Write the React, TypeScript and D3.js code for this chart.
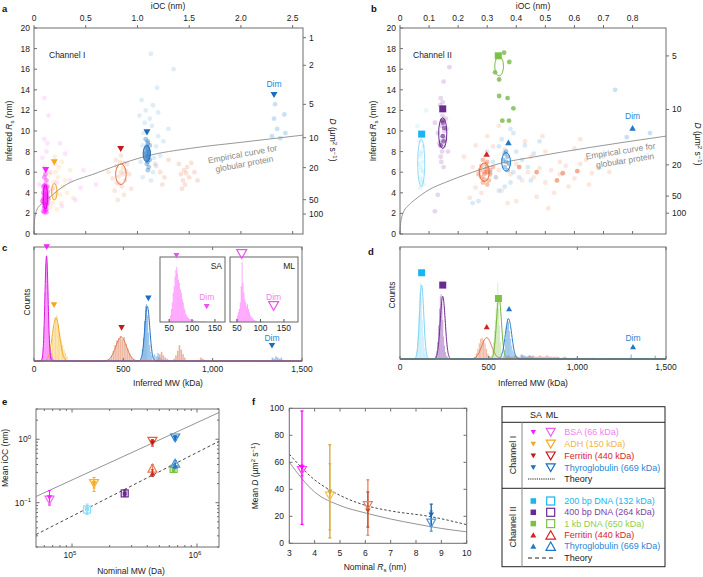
import React from 'react';
import * as d3 from 'd3';

type P = [number, number];

// ================= DATA =================
// ---- Panel a ----
const aIocTicks = [0, 0.5, 1, 1.5, 2, 2.5];
const aIocLabels = ['0', '0.5', '1.0', '1.5', '2.0', '2.5'];
const rsTicks = [0, 2, 4, 6, 8, 10, 12, 14, 16, 18, 20];
const aDLabels = ['1', '2', '5', '10', '20', '50', '100'];
const aDRs = [19.06, 16.38, 12.59, 9.35, 6.44, 3.33, 1.94];
const aCurve: P[] = [[0, 0], [0.003, 1.0], [0.01, 1.7], [0.026, 2.3], [0.06, 2.8], [0.12, 3.3], [0.28, 4.6], [0.6, 5.9], [0.93, 7.1], [1.1, 7.6], [1.5, 8.3], [2.0, 8.9], [2.6, 9.6]];
const aBsaCore: P[] = [[0.09, 2.2], [0.1, 2.5], [0.11, 2.3], [0.12, 2.8], [0.09, 3.0], [0.1, 3.2], [0.11, 3.5], [0.12, 3.1], [0.13, 3.6], [0.1, 3.8], [0.09, 4.0], [0.11, 4.2], [0.12, 4.5], [0.1, 4.7], [0.13, 4.1], [0.11, 2.9], [0.12, 3.3], [0.1, 3.5], [0.11, 3.9], [0.12, 3.7], [0.09, 3.4], [0.1, 2.7], [0.11, 3.0], [0.12, 2.4], [0.13, 3.0], [0.1, 4.3], [0.11, 4.8], [0.12, 5.2], [0.1, 5.5], [0.09, 4.6], [0.13, 4.6], [0.11, 5.8], [0.14, 3.4], [0.08, 3.2], [0.1, 2.1], [0.12, 2.1], [0.11, 2.6], [0.1, 3.0], [0.12, 3.9], [0.11, 4.5]];
const aBsaSpread: P[] = [[0.1, 6.5], [0.08, 7.4], [0.12, 8.0], [0.1, 9.2], [0.14, 11.5], [0.1, 13.2], [0.2, 6.8], [0.25, 8.8], [0.3, 7.8], [0.35, 5.2], [0.22, 5.0], [0.18, 4.4], [0.05, 4.8], [0.4, 3.3], [0.27, 2.7], [0.13, 8.8], [0.45, 4.5], [0.48, 6.2], [0.6, 4.8], [0.16, 6.0]];
const aAdh: P[] = [[0.18, 3.0], [0.2, 3.5], [0.22, 4.0], [0.2, 4.5], [0.19, 5.0], [0.23, 5.5], [0.17, 4.2], [0.25, 3.8], [0.28, 4.6], [0.21, 6.0], [0.24, 6.5], [0.3, 5.2], [0.16, 2.6], [0.26, 3.0], [0.32, 4.0], [0.35, 6.2], [0.2, 7.5], [0.15, 5.8], [0.27, 7.0], [0.38, 3.5], [0.22, 2.4], [0.19, 3.8]];
const aFer: P[] = [[0.78, 4.2], [0.8, 5.0], [0.82, 5.6], [0.84, 6.0], [0.86, 6.4], [0.88, 5.2], [0.9, 6.8], [0.83, 7.0], [0.85, 4.6], [0.87, 3.8], [0.8, 6.6], [0.92, 5.8], [0.76, 5.4], [0.84, 7.6], [0.86, 5.8], [0.82, 4.9], [0.89, 6.1], [0.94, 4.4], [0.79, 7.2], [0.87, 6.9], [0.81, 3.3], [0.72, 6.0]];
const aFer2: P[] = [[1.42, 5.8], [1.45, 6.2], [1.48, 6.5], [1.5, 5.5], [1.44, 5.2], [1.52, 6.9], [1.46, 4.8], [1.55, 6.0], [1.4, 6.8], [1.47, 5.9], [1.43, 4.4], [1.58, 5.2], [1.22, 6.0], [1.26, 5.5], [1.3, 7.2], [1.24, 4.8], [1.18, 6.6]];
const aThyCore: P[] = [[1.1, 7.0], [1.1, 7.5], [1.11, 8.0], [1.09, 8.5], [1.1, 9.0], [1.12, 7.2], [1.08, 7.8], [1.11, 6.5], [1.09, 6.8], [1.1, 8.2], [1.12, 8.6], [1.08, 9.2], [1.1, 6.2], [1.11, 7.7], [1.09, 7.3], [1.1, 8.8]];
const aThySpread: P[] = [[1.05, 5.5], [1.15, 6.0], [1.06, 9.8], [1.14, 10.5], [1.12, 11.2], [1.08, 12.0], [1.18, 8.5], [1.2, 9.5], [1.03, 7.0], [1.16, 7.4], [1.13, 5.2], [1.07, 10.8], [1.04, 13.0], [1.2, 11.8], [1.15, 12.5], [1.13, 17.5], [1.05, 8.6], [1.17, 6.8], [1.22, 7.6], [1.25, 9.0], [1.02, 11.5], [1.3, 10.2], [1.35, 16.0], [1.19, 14.2]];
const aDim: P[] = [[2.33, 12.6], [2.32, 11.2], [2.35, 10.2], [2.42, 11.6], [2.38, 9.3], [2.43, 9.8], [2.3, 9.5]];
// ellipses: cx, cy, half-width (iOC), half-height (Rs)
const aEllBsa = [0.11, 3.6, 0.02, 1.2];
const aEllAdh = [0.196, 4.1, 0.026, 0.8];
const aEllFer = [0.84, 5.8, 0.051, 1.0];
const aEllThy = [1.09, 7.8, 0.035, 0.8];
const aMarkIoc = [0.113, 0.196, 0.838, 1.092, 2.32];
const aMarkRs = [6.2, 6.96, 8.25, 9.87, 13.5];

// ---- Panel b ----
const bIocTicks = [0, 0.1, 0.2, 0.3, 0.4, 0.5, 0.6, 0.7, 0.8];
const bIocLabels = ['0', '0.1', '0.2', '0.3', '0.4', '0.5', '0.6', '0.7', '0.8'];
const bDLabels = ['5', '10', '20', '50', '100'];
const bDRs = [17.29, 12.09, 6.71, 3.68, 2.02];
const bCurve: P[] = [[0, 0], [0.002, 1.0], [0.01, 2.0], [0.03, 2.8], [0.05, 3.3], [0.1, 4.3], [0.155, 5.0], [0.25, 6.0], [0.344, 6.85], [0.464, 7.5], [0.653, 8.4], [0.915, 9.5]];
const b200: P[] = [[0.07, 4.5], [0.075, 5.0], [0.07, 5.5], [0.08, 6.0], [0.072, 6.5], [0.078, 7.0], [0.07, 7.5], [0.075, 8.0], [0.08, 8.5], [0.068, 9.0], [0.074, 6.2], [0.076, 5.2], [0.071, 7.8], [0.082, 4.8], [0.065, 6.8], [0.073, 9.5], [0.09, 12], [0.06, 10.5]];
const b400: P[] = [[0.14, 7.5], [0.145, 8.0], [0.15, 8.5], [0.14, 9.0], [0.148, 9.5], [0.152, 10.0], [0.143, 10.5], [0.15, 11.0], [0.146, 11.5], [0.138, 12.5], [0.155, 9.2], [0.135, 8.8], [0.16, 10.2], [0.142, 7.0], [0.15, 6.5], [0.13, 9.8], [0.158, 11.2], [0.147, 12.8], [0.14, 13.2], [0.165, 8.0], [0.12, 10.8], [0.17, 16.2], [0.15, 14.8], [0.13, 3.8], [0.12, 2.2]];
const b400Dark: P[] = [[0.147, 9.5], [0.152, 10.3], [0.145, 11.0], [0.14, 8.6], [0.15, 9.0], [0.148, 10.8]];
const b1kb: P[] = [[0.358, 17.6], [0.376, 16.7], [0.327, 15.7], [0.341, 15.0], [0.341, 13.4], [0.37, 13.2], [0.39, 12.2], [0.352, 11.0], [0.375, 11.0]];
const bFerCore: P[] = [[0.28, 5.5], [0.29, 6.0], [0.3, 6.5], [0.285, 5.0], [0.295, 6.8], [0.275, 6.2], [0.31, 5.8], [0.29, 5.3], [0.3, 7.0], [0.28, 6.6], [0.305, 5.2], [0.27, 5.8], [0.295, 6.3], [0.285, 7.2], [0.31, 6.2], [0.3, 4.8], [0.29, 5.8], [0.32, 6.5]];
const bFerSpread: P[] = [[0.25, 6.5], [0.26, 4.5], [0.33, 5.5], [0.35, 4.2], [0.34, 6.2], [0.38, 5.8], [0.4, 6.8], [0.42, 5.2], [0.44, 6.0], [0.46, 5.5], [0.48, 6.4], [0.5, 5.0], [0.52, 6.2], [0.55, 5.8], [0.57, 6.6], [0.6, 5.4], [0.62, 6.8], [0.64, 7.2], [0.66, 5.9], [0.68, 6.5], [0.7, 7.5], [0.45, 7.5], [0.5, 8.0], [0.55, 7.0], [0.58, 4.6], [0.53, 4.0], [0.47, 3.6], [0.4, 3.2], [0.36, 8.2], [0.32, 8.5], [0.3, 9.5], [0.26, 8.6], [0.24, 3.5], [0.6, 8.3], [0.65, 4.8], [0.72, 6.0], [0.75, 7.0], [0.43, 9.0], [0.37, 3.0], [0.28, 4.0], [0.34, 10.5], [0.22, 7.5], [0.62, 9.2], [0.49, 9.5], [0.51, 2.5]];
const bFerDark: P[] = [[0.3, 6.0], [0.56, 5.9], [0.41, 6.5], [0.61, 6.1], [0.54, 5.2], [0.47, 6.0]];
const bThyCore: P[] = [[0.36, 6.5], [0.365, 7.0], [0.37, 7.5], [0.36, 7.8], [0.37, 6.2], [0.355, 7.2], [0.375, 6.8], [0.365, 8.0]];
const bThySpread: P[] = [[0.33, 5.5], [0.34, 8.5], [0.39, 6.0], [0.4, 8.0], [0.42, 7.2], [0.38, 5.0], [0.35, 9.2], [0.41, 5.5], [0.32, 7.0], [0.44, 6.5], [0.39, 9.8], [0.36, 4.6], [0.43, 8.6], [0.46, 7.8], [0.31, 6.0], [0.38, 10.2], [0.34, 4.2], [0.45, 5.2], [0.3, 8.0], [0.48, 9.0], [0.27, 3.2], [0.25, 3.0]];
const bDim: P[] = [[0.78, 9.4], [0.86, 9.8], [0.74, 14.0]];
const bEll200 = [0.073, 6.9, 0.012, 2.3];
const bEll400 = [0.147, 9.8, 0.014, 1.5];
const bEll1kb = [0.341, 16.3, 0.015, 0.95];
const bEllFer = [0.29, 6.0, 0.017, 0.9];
const bEllThy = [0.365, 7.0, 0.015, 0.9];
const bMarkIoc = [0.0745, 0.147, 0.338, 0.298, 0.373, 0.80];
const bMarkRs = [9.7, 12.15, 17.3, 7.77, 8.9, 10.3];

// ---- Panel c (histograms: start kDa, bin width, relative counts) ----
const mwTicks = [0, 500, 1000, 1500];
const mwLabels = ['0', '500', '1,000', '1,500'];
const cBsa = { start: 40, bin: 5, counts: [0.02, 0.05, 0.12, 0.3, 0.6, 0.85, 0.93, 0.7, 0.4, 0.22, 0.12, 0.07, 0.04, 0.02, 0.01] };
const cAdh = { start: 85, bin: 8, counts: [0.05, 0.1, 0.2, 0.3, 0.38, 0.4, 0.32, 0.25, 0.18, 0.14, 0.1, 0.07, 0.04] };
const cFer = { start: 420, bin: 10, counts: [0.02, 0.05, 0.09, 0.14, 0.18, 0.2, 0.22, 0.19, 0.21, 0.15, 0.11, 0.07, 0.04, 0.02] };
const cFerTail = { start: 690, bin: 10, counts: [0.04, 0.06, 0.08, 0.05, 0.03, 0.02, 0.01, 0, 0, 0.02, 0.05, 0.09, 0.14, 0.1, 0.06, 0.03, 0, 0, 0, 0, 0, 0, 0, 0.01, 0.03, 0.02, 0.01] };
const cThy = { start: 598, bin: 6, counts: [0.03, 0.1, 0.2, 0.35, 0.48, 0.5, 0.4, 0.25, 0.14, 0.08, 0.05] };
const cThyTail = { start: 670, bin: 10, counts: [0.06, 0.04, 0.07, 0.03, 0.02] };
const cThyDim = { start: 1330, bin: 10, counts: [0.03, 0.02, 0.04, 0.03, 0.02, 0.03, 0.01] };
// Gaussian fits: mean, sd, amplitude
const cFitBsa = [70, 9, 0.92];
const cFitAdh = [123, 20, 0.38];
const cFitFer = [488, 30, 0.21];
const cFitThy = [634, 14, 0.48];
const cMarkMw = [71, 112, 490, 640, 1332];
const cMarkLvl = [1.0, 0.49, 0.29, 0.55, 0.134];
// insets (BSA only)
const insetTicks = [50, 100, 150];
const insetSA = { start: 50, bin: 2, counts: [0.05, 0.1, 0.2, 0.3, 0.45, 0.55, 0.7, 0.8, 0.85, 0.75, 0.65, 0.6, 0.5, 0.45, 0.35, 0.3, 0.22, 0.18, 0.12, 0.1, 0.08, 0.06, 0.05, 0.04, 0.04, 0.03, 0.03, 0.02, 0.02, 0.02, 0.01, 0.02, 0.01, 0.01, 0.01, 0.01, 0.01, 0.01, 0.01, 0.01] };
const insetML = { start: 48, bin: 2, counts: [0.05, 0.1, 0.15, 0.2, 0.3, 0.55, 0.92, 0.6, 0.45, 0.35, 0.3, 0.25, 0.28, 0.2, 0.15, 0.1, 0.08, 0.06, 0.04, 0.03, 0.02, 0.02, 0.01, 0.01, 0.01, 0.01, 0.01, 0.01, 0.01, 0.01] };
const insetSAMark = [66, 132];
const insetMLMark = [60, 128];

// ---- Panel d ----
const d200 = { start: 90, bin: 5, counts: [0.03, 0.08, 0.2, 0.4, 0.6, 0.68, 0.55, 0.35, 0.2, 0.1, 0.05, 0.03, 0.02] };
const d400 = { start: 200, bin: 5, counts: [0.03, 0.07, 0.15, 0.3, 0.45, 0.56, 0.58, 0.5, 0.35, 0.2, 0.12, 0.06, 0.03, 0.02, 0.01, 0.01, 0.01] };
const d1kb = { start: 515, bin: 5, counts: [0.03, 0.08, 0.15, 0.25, 0.35, 0.45, 0.5, 0.68, 0.45, 0.3, 0.15, 0.06, 0.02] };
const dFer = { start: 420, bin: 8, counts: [0.02, 0.05, 0.09, 0.14, 0.18, 0.19, 0.17, 0.14, 0.09, 0.05, 0.03, 0.02] };
const dFerTail = { start: 600, bin: 20, counts: [0.03, 0.02, 0.03, 0.02, 0.03, 0.02, 0.03, 0.03, 0.02, 0.03, 0.02, 0.03, 0.02, 0.02, 0.02, 0.01, 0.02, 0.01, 0.01, 0.01, 0.01, 0.01, 0.01, 0.01, 0.01] };
const dThy = { start: 580, bin: 6, counts: [0.03, 0.08, 0.18, 0.3, 0.36, 0.33, 0.25, 0.18, 0.12, 0.08, 0.06, 0.04, 0.03, 0.02] };
const dThyTail = { start: 680, bin: 15, counts: [0.04, 0.03, 0.02, 0.03, 0.02] };
const dThyDim = { start: 1300, bin: 8, counts: [0.04, 0, 0, 0, 0, 0, 0, 0, 0, 0, 0, 0, 0, 0, 0, 0, 0, 0.03] };
const dFit200 = [122, 12, 0.66];
const dFit400 = [241, 14, 0.56];
const dFit1kb = [558, 14, 0.55];
const dFitFer = [489, 28, 0.19];
const dFitThy = [612, 18, 0.36];
const dMarkMw = [122, 241, 555, 489, 615, 1314];
const dMarkLvl = [0.77, 0.66, 0.54, 0.29, 0.45, 0.11];

// ---- Panel e ----
const eMwI = [66000, 150000, 440000, 669000];
const eSAI = [0.12, 0.2, 0.88, 1.05];
const eSAIlo = [0.095, 0.15, 0.78, 0.97];
const eSAIhi = [0.155, 0.25, 0.97, 1.13];
const eMLI = [0.11, 0.2, 0.93, 1.05];
const eMLIlo = [0.09, 0.17, 0.85, 0.98];
const eMLIhi = [0.13, 0.23, 0.99, 1.12];
const eMwII = [132000, 264000, 650000, 440000, 669000];
const eSAII = [0.08, 0.14, 0.33, 0.29, 0.38];
const eSAIIlo = [0.065, 0.125, 0.31, 0.26, 0.35];
const eSAIIhi = [0.095, 0.16, 0.36, 0.33, 0.42];
const eMLII = [0.078, 0.14, 0.34, 0.35, 0.42];
const eMLIIlo = [0.068, 0.13, 0.32, 0.31, 0.38];
const eMLIIhi = [0.09, 0.155, 0.36, 0.4, 0.46];
const eTheoryI: P[] = [[51500, 0.125], [1500000, 2.64]];
const eTheoryII: P[] = [[51500, 0.0314], [1500000, 0.93]];

// ---- Panel f ----
const fRsTicks = [3, 4, 5, 6, 7, 8, 9, 10];
const fDTicks = [0, 20, 40, 60, 80, 100];
const fRs = [3.5, 4.6, 6.1, 8.6];
const fSA = [56, 38, 24, 21];
const fSAlo = [14, 4, 12, 13];
const fSAhi = [98, 73, 38, 29];
const fML = [54, 35, 28, 15];
const fMLlo = [50, 10, 6, 9];
const fMLhi = [58, 59, 47, 24];
const fTheoryI: P[] = [[3, 60], [4, 38], [5, 28], [6, 22.5], [7, 18], [8, 14.3], [9, 11], [10, 8.5]];
const fTheoryII: P[] = [[3, 66], [4, 47], [4.6, 39.5], [5, 35.5], [6.1, 27.6], [7, 24], [8.6, 19.7], [10, 13.8]];

// ---- Legend ----
const legendI = ['BSA (66 kDa)', 'ADH (150 kDa)', 'Ferritin (440 kDa)', 'Thyroglobulin (669 kDa)'];
const legendII = ['200 bp DNA (132 kDa)', '400 bp DNA (264 kDa)', '1 kb DNA (650 kDa)', 'Ferritin (440 kDa)', 'Thyroglobulin (669 kDa)'];

// ================= STYLE =================
const FONT = "'Liberation Sans', Arial, Helvetica, sans-serif";
const FS = 8.5;
const AX = '#6e6e6e';
const C = {
  bsa: '#ff1cff', bsaTxt: '#f27ff2', adh: '#f2a81d', adhTxt: '#f2b440',
  ferI: '#c8161b', ferTxt: '#d8262c', ferCloud: '#e8703f',
  thy: '#1a6dbf', thyTxt: '#2a86d6', thyCloud: '#4d9de0',
  d200: '#1ab4ef', d200Cloud: '#8fdcf8', d400: '#6b2a90', d400Txt: '#7f42a3', d1kb: '#7bc143', d1kbTxt: '#8ccf4d',
  ferII: '#d42222', ferIICloud: '#ec6a38', thyII: '#1f78c8', gray: '#8a8a8a',
};

const triPath = (cx: number, cy: number, s: number, down: boolean) => {
  const h = s * 0.87;
  return down
    ? `M${cx - s / 2},${cy - h / 2}L${cx + s / 2},${cy - h / 2}L${cx},${cy + h / 2}Z`
    : `M${cx - s / 2},${cy + h / 2}L${cx + s / 2},${cy + h / 2}L${cx},${cy - h / 2}Z`;
};

function Marker({ shape, cx, cy, s, color, open, sw = 1.2 }: any) {
  if (shape === 'sq') {
    return <rect x={cx - s / 2} y={cy - s / 2} width={s} height={s} fill={open ? 'none' : color} stroke={color} strokeWidth={open ? sw : 0} />;
  }
  return <path d={triPath(cx, cy, s, shape === 'down')} fill={open ? 'none' : color} stroke={color} strokeWidth={open ? sw : 0} strokeLinejoin="miter" />;
}

function Cloud({ pts, x, y, color, op, r = 2.4 }: any) {
  return <g>{pts.map((p: P, i: number) => <circle key={i} cx={x(p[0])} cy={y(p[1])} r={r} fill={color} fillOpacity={op} />)}</g>;
}

function Ell({ e, x, y, color, fill }: any) {
  const cx = x(e[0]), cy = y(e[1]);
  return <ellipse cx={cx} cy={cy} rx={x(e[0] + e[2]) - cx} ry={cy - y(e[1] + e[3])} fill={fill || 'none'} fillOpacity={0.5} stroke={color} strokeWidth={1} />;
}

function Hist({ h, x, y, color, op = 0.55 }: any) {
  return <g>{h.counts.map((c: number, i: number) => c > 0 ? (
    <rect key={i} x={x(h.start + i * h.bin)} y={y(c)} width={Math.max(0.6, x(h.start + (i + 1) * h.bin) - x(h.start + i * h.bin) - 0.25)} height={y(0) - y(c)} fill={color} fillOpacity={op} />
  ) : null)}</g>;
}

function Fit({ f, x, y, color, sw = 1 }: any) {
  const [mu, sd, amp] = f;
  const dom = x.domain();
  const xs = d3.range(dom[0], dom[1] + 0.01, 1);
  const line = d3.line<number>().x(v => x(v)).y(v => y(amp * Math.exp(-0.5 * ((v - mu) / sd) ** 2)));
  return <path d={line(xs) || ''} fill="none" stroke={color} strokeWidth={sw} />;
}

const T = (p: any) => <text fontFamily={FONT} fontSize={FS} fill="#222" {...p} />;

function RsLabel({ x, y }: any) {
  return (
    <text transform={`translate(${x},${y}) rotate(-90)`} textAnchor="middle" fontFamily={FONT} fontSize={FS} fill="#222">
      Inferred <tspan fontStyle="italic">R</tspan><tspan fontSize={6} dy={2}>s</tspan><tspan dy={-2}> (nm)</tspan>
    </text>
  );
}

function DLabel({ x, y, rot = 90, prefix = '' }: any) {
  return (
    <text transform={`translate(${x},${y}) rotate(${rot})`} textAnchor="middle" fontFamily={FONT} fontSize={FS} fill="#222">
      {prefix}<tspan fontStyle="italic">D</tspan> (µm<tspan fontSize={6} dy={-3}>2</tspan><tspan dy={3}> s</tspan><tspan fontSize={6} dy={-3}>−1</tspan><tspan dy={3}>)</tspan>
    </text>
  );
}

// ---- scatter panel (a / b) ----
function ScatterFrame({ x, y, topTicks, topLabels, dRs, dLabels, curve }: any) {
  const [x0, x1] = x.range();
  const [y0, y1] = y.range();
  const line = d3.line<P>().x(p => x(p[0])).y(p => y(p[1])).curve(d3.curveMonotoneX);
  return (
    <g>
      <path d={line(curve) || ''} fill="none" stroke="#8c8c8c" strokeWidth={0.9} />
      <rect x={x0} y={y1} width={x1 - x0} height={y0 - y1} fill="none" stroke={AX} strokeWidth={1} />
      {topTicks.map((t: number, i: number) => (
        <g key={i}>
          <line x1={x(t)} x2={x(t)} y1={y1} y2={y1 - 3} stroke={AX} />
          <line x1={x(t)} x2={x(t)} y1={y0} y2={y0 - 3} stroke={AX} />
          <T x={x(t)} y={y1 - 7} textAnchor="middle">{topLabels[i]}</T>
        </g>
      ))}
      {rsTicks.map((t, i) => (
        <g key={i}>
          <line x1={x0} x2={x0 + 3} y1={y(t)} y2={y(t)} stroke={AX} />
          <T x={x0 - 4} y={y(t)} dominantBaseline="central" textAnchor="end">{t}</T>
        </g>
      ))}
      {dRs.map((r: number, i: number) => (
        <g key={i}>
          <line x1={x1} x2={x1 + 3} y1={y(r)} y2={y(r)} stroke={AX} />
          <T x={x1 + 6} y={y(r)} dominantBaseline="central">{dLabels[i]}</T>
        </g>
      ))}
    </g>
  );
}

function PanelA() {
  const x = d3.scaleLinear().domain([0, 2.6]).range([34, 303]);
  const y = d3.scaleLinear().domain([0, 20]).range([234, 28]);
  const mk = [C.bsa, C.adh, C.ferI, C.thy, C.thy];
  return (
    <g>
      <Cloud pts={aBsaSpread} x={x} y={y} color={C.bsa} op={0.12} />
      <Cloud pts={aAdh} x={x} y={y} color={C.adh} op={0.16} />
      <Cloud pts={aFer} x={x} y={y} color={C.ferCloud} op={0.17} />
      <Cloud pts={aFer2} x={x} y={y} color={C.ferCloud} op={0.2} />
      <Cloud pts={aThySpread} x={x} y={y} color={C.thyCloud} op={0.18} />
      <Cloud pts={aDim} x={x} y={y} color={C.thyCloud} op={0.3} />
      <Cloud pts={aThyCore} x={x} y={y} color={C.thy} op={0.35} />
      <Cloud pts={aBsaCore} x={x} y={y} color={C.bsa} op={0.45} />
      <ScatterFrame x={x} y={y} topTicks={aIocTicks} topLabels={aIocLabels} dRs={aDRs} dLabels={aDLabels} curve={aCurve} />
      <Ell e={aEllBsa} x={x} y={y} color="#e000e0" />
      <Ell e={aEllAdh} x={x} y={y} color={C.adh} />
      <Ell e={aEllFer} x={x} y={y} color={C.ferCloud} />
      <Ell e={aEllThy} x={x} y={y} color={C.thy} fill={C.thy} />
      {aMarkIoc.map((v, i) => <Marker key={i} shape="down" cx={x(v)} cy={y(aMarkRs[i])} s={7} color={mk[i]} />)}
      <T x={x(2.32)} y={y(14.3)} textAnchor="middle" fill={C.thyTxt}>Dim</T>
      <T x={49} y={55} dominantBaseline="central">Channel I</T>
      <g transform="rotate(-10.5 243 157)">
        <T x={243} y={157} textAnchor="middle" fill={C.gray}>Empirical curve for</T>
        <T x={243} y={167} textAnchor="middle" fill={C.gray}>globular protein</T>
      </g>
      <T x={168} y={9} textAnchor="middle">iOC (nm)</T>
      <RsLabel x={12} y={131} />
      <DLabel x={330} y={140} />
    </g>
  );
}

function PanelB() {
  const x = d3.scaleLinear().domain([0, 0.915]).range([400, 666]);
  const y = d3.scaleLinear().domain([0, 20]).range([234, 28]);
  const shapes = ['sq', 'sq', 'sq', 'up', 'up', 'up'];
  const cols = [C.d200, C.d400, C.d1kb, C.ferII, C.thyII, C.thyII];
  return (
    <g>
      <Cloud pts={bFerSpread} x={x} y={y} color={C.ferIICloud} op={0.16} />
      <Cloud pts={bThySpread} x={x} y={y} color={C.thyCloud} op={0.22} />
      <Cloud pts={bDim} x={x} y={y} color={C.thyCloud} op={0.3} />
      <Cloud pts={b200} x={x} y={y} color={C.d200Cloud} op={0.22} />
      <Cloud pts={b400} x={x} y={y} color="#9a5cbc" op={0.25} />
      <Cloud pts={b400Dark} x={x} y={y} color={C.d400} op={0.6} />
      <Cloud pts={bFerCore} x={x} y={y} color={C.ferIICloud} op={0.4} />
      <Cloud pts={bFerDark} x={x} y={y} color={C.ferIICloud} op={0.55} />
      <Cloud pts={bThyCore} x={x} y={y} color={C.thyII} op={0.4} />
      <Cloud pts={b1kb} x={x} y={y} color="#6fb43a" op={0.75} />
      <ScatterFrame x={x} y={y} topTicks={bIocTicks} topLabels={bIocLabels} dRs={bDRs} dLabels={bDLabels} curve={bCurve} />
      <Ell e={bEll200} x={x} y={y} color={C.d200Cloud} />
      <Ell e={bEll400} x={x} y={y} color={C.d400} />
      <Ell e={bEll1kb} x={x} y={y} color={C.d1kb} />
      <Ell e={bEllFer} x={x} y={y} color={C.ferIICloud} />
      <Ell e={bEllThy} x={x} y={y} color={C.thyII} />
      {bMarkIoc.map((v, i) => <Marker key={i} shape={shapes[i]} cx={x(v)} cy={y(bMarkRs[i])} s={i < 3 ? 7 : 6.5} color={cols[i]} />)}
      <T x={x(0.80)} y={y(11.2)} textAnchor="middle" fill={C.thyTxt}>Dim</T>
      <T x={413} y={55} dominantBaseline="central">Channel II</T>
      <g transform="rotate(-9 621 154)">
        <T x={621} y={154} textAnchor="middle" fill={C.gray}>Empirical curve for</T>
        <T x={624} y={164} textAnchor="middle" fill={C.gray}>globular protein</T>
      </g>
      <T x={533} y={9} textAnchor="middle">iOC (nm)</T>
      <RsLabel x={376} y={131} />
      <DLabel x={695} y={144} />
    </g>
  );
}

function HistFrame({ x, y }: any) {
  const [x0, x1] = x.range();
  const [y0, y1] = y.range();
  return (
    <g>
      <rect x={x0} y={y1} width={x1 - x0} height={y0 - y1} fill="none" stroke={AX} strokeWidth={1} />
      {mwTicks.map((t, i) => (
        <g key={i}>
          <line x1={x(t)} x2={x(t)} y1={y0} y2={y0 - 3} stroke={AX} />
          <line x1={x(t)} x2={x(t)} y1={y1} y2={y1 + 3} stroke={AX} />
          <T x={x(t)} y={y0 + 11} textAnchor="middle">{mwLabels[i]}</T>
        </g>
      ))}
    </g>
  );
}

function Inset({ h, dom, x0, x1, label, marks, open }: any) {
  const x = d3.scaleLinear().domain(dom).range([x0, x1]);
  const y = d3.scaleLinear().domain([0, 1]).range([322, 257]);
  return (
    <g>
      <rect x={x0} y={257} width={x1 - x0} height={65} fill="#fff" stroke="#555" strokeWidth={0.9} />
      <Hist h={h} x={x} y={y} color="#ff33ff" op={0.6} />
      {insetTicks.map((t, i) => (
        <g key={i}>
          <line x1={x(t)} x2={x(t)} y1={322} y2={319} stroke="#555" />
          <T x={x(t)} y={331} textAnchor="middle">{t}</T>
        </g>
      ))}
      <T x={x1 - 3} y={266} textAnchor="end" dominantBaseline="central">{label}</T>
      <Marker shape="down" cx={x(marks[0])} cy={open ? 254 : 255.7} s={open ? 10 : 6} color="#f050f0" open={open} />
      <T x={x(marks[1])} y={300} textAnchor="middle" fill={C.bsaTxt}>Dim</T>
      <Marker shape="down" cx={x(marks[1])} cy={open ? 306 : 306.7} s={open ? 10 : 6} color="#f050f0" open={open} />
    </g>
  );
}

function PanelC() {
  const x = d3.scaleLinear().domain([0, 1500]).range([34, 302]);
  const y = d3.scaleLinear().domain([0, 1]).range([361, 247]);
  const cols = [C.bsa, C.adh, C.ferI, C.thy, C.thy];
  return (
    <g>
      <Hist h={cAdh} x={x} y={y} color="#f5c048" op={0.6} />
      <Hist h={cFer} x={x} y={y} color="#e49070" op={0.65} />
      <Hist h={cFerTail} x={x} y={y} color="#e49070" op={0.7} />
      <Hist h={cThy} x={x} y={y} color="#3c8fd8" op={0.7} />
      <Hist h={cThyTail} x={x} y={y} color="#6aa8e2" op={0.6} />
      <Hist h={cThyDim} x={x} y={y} color="#6aa8e2" op={0.7} />
      <Hist h={cBsa} x={x} y={y} color="#ff30ff" op={0.75} />
      <Fit f={cFitAdh} x={x} y={y} color="#f0a818" />
      <Fit f={cFitFer} x={x} y={y} color="#e06a3a" />
      <Fit f={cFitThy} x={x} y={y} color="#1f6fc0" />
      <Fit f={cFitBsa} x={x} y={y} color="#d020d8" />
      <HistFrame x={x} y={y} />
      {cMarkMw.map((m, i) => <Marker key={i} shape="down" cx={x(m)} cy={y(cMarkLvl[i])} s={6.5} color={cols[i]} />)}
      <T x={x(1332)} y={y(0.2)} textAnchor="middle" dominantBaseline="central" fill={C.thyTxt}>Dim</T>
      <Inset h={insetSA} dom={[30, 172]} x0={160} x1={225} label="SA" marks={insetSAMark} />
      <Inset h={insetML} dom={[35, 180]} x0={230} x1={298} label="ML" marks={insetMLMark} open />
      <T x={168} y={386} textAnchor="middle">Inferred MW (kDa)</T>
      <T transform="translate(30,302) rotate(-90)" textAnchor="middle">Counts</T>
    </g>
  );
}

function PanelD() {
  const x = d3.scaleLinear().domain([0, 1500]).range([400, 666]);
  const y = d3.scaleLinear().domain([0, 1]).range([359, 247]);
  const shapes = ['sq', 'sq', 'sq', 'up', 'up', 'up'];
  const cols = [C.d200, C.d400, C.d1kb, C.ferII, C.thyII, C.thyII];
  return (
    <g>
      <Hist h={dFerTail} x={x} y={y} color="#e99070" op={0.6} />
      <Hist h={dFer} x={x} y={y} color="#e99070" op={0.65} />
      <Hist h={d200} x={x} y={y} color="#a8e2f8" op={0.8} />
      <Hist h={d400} x={x} y={y} color="#9557b5" op={0.75} />
      <Hist h={d1kb} x={x} y={y} color="#a5d678" op={0.7} />
      <Hist h={dThy} x={x} y={y} color="#4a98dc" op={0.65} />
      <Hist h={dThyTail} x={x} y={y} color="#6aa8e2" op={0.6} />
      <Hist h={dThyDim} x={x} y={y} color="#4a98dc" op={0.7} />
      <Fit f={dFitFer} x={x} y={y} color="#e2683a" />
      <Fit f={dFit200} x={x} y={y} color="#7fd2f4" />
      <Fit f={dFit400} x={x} y={y} color="#6b2a90" />
      <Fit f={dFit1kb} x={x} y={y} color="#6fb43a" />
      <Fit f={dFitThy} x={x} y={y} color="#1f78c8" />
      <HistFrame x={x} y={y} />
      {dMarkMw.map((m, i) => <Marker key={i} shape={shapes[i]} cx={x(m)} cy={y(dMarkLvl[i])} s={i < 3 ? 7 : 6} color={cols[i]} />)}
      <T x={x(1314)} y={y(0.19)} textAnchor="middle" dominantBaseline="central" fill={C.thyTxt}>Dim</T>
      <T x={533} y={386} textAnchor="middle">Inferred MW (kDa)</T>
      <T transform="translate(395,295) rotate(-90)" textAnchor="middle">Counts</T>
    </g>
  );
}

function ErrBar({ x, ylo, yhi, color, w = 3, sw = 1 }: any) {
  return (
    <g stroke={color} strokeWidth={sw}>
      <line x1={x} x2={x} y1={ylo} y2={yhi} />
      <line x1={x - w / 2} x2={x + w / 2} y1={ylo} y2={ylo} />
      <line x1={x - w / 2} x2={x + w / 2} y1={yhi} y2={yhi} />
    </g>
  );
}

function PanelE() {
  const x = d3.scaleLog().domain([51500, 1500000]).range([36, 219]);
  const y = d3.scaleLog().domain([0.02, 3]).range([547, 409]);
  const xt = x.ticks();
  const yt = y.ticks();
  const line = d3.line<P>().x(p => x(p[0])).y(p => y(p[1]));
  const colI = [C.bsa, C.adh, C.ferI, C.thy];
  const colIml = ['#f070f0', '#f5b530', '#e8603a', '#2a86d6'];
  const colII = [C.d200Cloud, C.d400, C.d1kb, C.ferII, C.thyII];
  const colIIml = [C.d200Cloud, C.d400, C.d1kb, '#ec7a50', '#3a90d8'];
  return (
    <g>
      <path d={line(eTheoryI) || ''} stroke="#888" strokeWidth={0.9} fill="none" />
      <path d={line(eTheoryII) || ''} stroke="#333" strokeWidth={0.9} strokeDasharray="3,2.5" fill="none" />
      <rect x={36} y={409} width={183} height={138} fill="none" stroke={AX} />
      {xt.map((t, i) => {
        const major = Math.abs(Math.log10(t) - Math.round(Math.log10(t))) < 1e-6;
        return (
          <g key={i}>
            <line x1={x(t)} x2={x(t)} y1={547} y2={547 - (major ? 3.5 : 2)} stroke={AX} />
            <line x1={x(t)} x2={x(t)} y1={409} y2={409 + (major ? 3.5 : 2)} stroke={AX} />
            {major && <T x={x(t) - 2} y={558} textAnchor="middle">10<tspan fontSize={6} dy={-3.5}>{Math.round(Math.log10(t))}</tspan></T>}
          </g>
        );
      })}
      {yt.map((t, i) => {
        const major = Math.abs(Math.log10(t) - Math.round(Math.log10(t))) < 1e-6;
        return (
          <g key={i}>
            <line x1={36} x2={36 + (major ? 3.5 : 2)} y1={y(t)} y2={y(t)} stroke={AX} />
            <line x1={219} x2={219 - (major ? 3.5 : 2)} y1={y(t)} y2={y(t)} stroke={AX} />
            {major && <T x={31} y={y(t) + 3} textAnchor="end">10<tspan fontSize={6} dy={-3.5}>{Math.round(Math.log10(t)) === 0 ? '0' : '−1'}</tspan></T>}
          </g>
        );
      })}
      {eMwI.map((m, i) => (
        <g key={'i' + i}>
          <ErrBar x={x(m)} ylo={y(eMLIlo[i])} yhi={y(eMLIhi[i])} color={colIml[i]} />
          <ErrBar x={x(m)} ylo={y(eSAIlo[i])} yhi={y(eSAIhi[i])} color={colI[i]} />
          <Marker shape="down" cx={x(m)} cy={y(eMLI[i])} s={9} color={colIml[i]} open />
          <Marker shape="down" cx={x(m)} cy={y(eSAI[i])} s={5.5} color={colI[i]} />
        </g>
      ))}
      {eMwII.map((m, i) => (
        <g key={'ii' + i}>
          <ErrBar x={x(m)} ylo={y(eMLIIlo[i])} yhi={y(eMLIIhi[i])} color={colIIml[i]} />
          <ErrBar x={x(m)} ylo={y(eSAIIlo[i])} yhi={y(eSAIIhi[i])} color={colII[i]} />
          <Marker shape={i < 3 ? 'sq' : 'up'} cx={x(m)} cy={y(eMLII[i])} s={i < 3 ? 7 : 9} color={colIIml[i]} open />
          <Marker shape={i < 3 ? 'sq' : 'up'} cx={x(m)} cy={y(eSAII[i])} s={i < 3 ? 4 : 5.5} color={colII[i]} />
        </g>
      ))}
      <T x={131} y={574} textAnchor="middle">Nominal MW (Da)</T>
      <T transform="translate(8,458) rotate(-90)" textAnchor="middle">Mean iOC (nm)</T>
    </g>
  );
}

function PanelF() {
  const x = d3.scaleLinear().domain([3, 10]).range([289.3, 466.7]);
  const y = d3.scaleLinear().domain([0, 100]).range([543.3, 408.3]);
  const line = d3.line<P>().x(p => x(p[0])).y(p => y(p[1])).curve(d3.curveMonotoneX);
  const colSA = ['#ff00ff', '#d7a53a', '#c0502a', '#1a64b0'];
  const colML = ['#ff40ff', '#f0c25a', '#e88060', '#4a9ae0'];
  return (
    <g>
      <path d={line(fTheoryI) || ''} stroke="#888" strokeWidth={0.9} fill="none" />
      <path d={line(fTheoryII) || ''} stroke="#333" strokeWidth={0.9} strokeDasharray="2.5,2" fill="none" />
      <rect x={289.3} y={408.3} width={177.4} height={135} fill="none" stroke={AX} />
      {fRsTicks.map((t, i) => (
        <g key={i}>
          <line x1={x(t)} x2={x(t)} y1={543.3} y2={540} stroke={AX} />
          <line x1={x(t)} x2={x(t)} y1={408.3} y2={411.5} stroke={AX} />
          <T x={x(t)} y={556} textAnchor="middle">{t}</T>
        </g>
      ))}
      {fDTicks.map((t, i) => (
        <g key={i}>
          <line x1={289.3} x2={292.5} y1={y(t)} y2={y(t)} stroke={AX} />
          <line x1={466.7} x2={463.5} y1={y(t)} y2={y(t)} stroke={AX} />
          <T x={284} y={y(t)} textAnchor="end" dominantBaseline="central">{t}</T>
        </g>
      ))}
      {fRs.map((r, i) => (
        <g key={i}>
          <ErrBar x={x(r)} ylo={y(fMLlo[i])} yhi={y(fMLhi[i])} color={colML[i]} sw={1.3} />
          <ErrBar x={x(r)} ylo={y(fSAlo[i])} yhi={y(fSAhi[i])} color={colSA[i]} sw={1.3} />
          <Marker shape="down" cx={x(r)} cy={y(fML[i])} s={9} color={colML[i]} open />
          <Marker shape="down" cx={x(r)} cy={y(fSA[i])} s={5.5} color={colSA[i]} />
        </g>
      ))}
      <text x={375} y={570} textAnchor="middle" fontFamily={FONT} fontSize={FS} fill="#222">
        Nominal <tspan fontStyle="italic">R</tspan><tspan fontSize={6} dy={2}>s</tspan><tspan dy={-2}> (nm)</tspan>
      </text>
      <DLabel x={258} y={476} rot={-90} prefix="Mean " />
    </g>
  );
}

function Legend() {
  const colI = [C.bsa, C.adh, C.ferI, C.thy];
  const colIml = ['#f060f0', C.adh, C.ferI, C.thy];
  const txtI = [C.bsaTxt, C.adhTxt, C.ferTxt, C.thyTxt];
  const colII = [C.d200, C.d400, C.d1kb, C.ferII, C.thyII];
  const txtII = [C.d200, C.d400Txt, C.d1kbTxt, C.ferTxt, C.thyTxt];
  const LF = 9;
  return (
    <g fontFamily={FONT}>
      <rect x={502} y={406.7} width={163} height={160} fill="#fff" stroke="#222" strokeWidth={1} />
      <line x1={502} x2={665} y1={422.3} y2={422.3} stroke="#222" />
      <line x1={502} x2={665} y1={488.3} y2={488.3} stroke="#222" />
      <line x1={522} x2={522} y1={422.3} y2={566.7} stroke="#888" />
      <text x={536} y={415} textAnchor="middle" dominantBaseline="central" fontSize={LF} fill="#222">SA</text>
      <text x={552} y={415} textAnchor="middle" dominantBaseline="central" fontSize={LF} fill="#222">ML</text>
      <text transform="translate(512.5,455) rotate(-90)" textAnchor="middle" dominantBaseline="central" fontSize={LF} fill="#222">Channel I</text>
      <text transform="translate(512.5,527) rotate(-90)" textAnchor="middle" dominantBaseline="central" fontSize={LF} fill="#222">Channel II</text>
      {legendI.map((s, i) => {
        const yy = 432.3 + i * 11.8;
        return (
          <g key={s}>
            <Marker shape="down" cx={533.3} cy={yy} s={5.5} color={colI[i]} />
            <Marker shape="down" cx={550.7} cy={yy} s={9} color={colIml[i]} open />
            <text x={564.3} y={yy} dominantBaseline="central" fontSize={LF} fill={txtI[i]}>{s}</text>
          </g>
        );
      })}
      <line x1={528} x2={555} y1={479} y2={479} stroke="#222" strokeDasharray="1.2,1" />
      <text x={564.3} y={479} dominantBaseline="central" fontSize={LF} fill="#222">Theory</text>
      {legendII.map((s, i) => {
        const yy = 501 + i * 11.3;
        const sh = i < 3 ? 'sq' : 'up';
        return (
          <g key={s + i}>
            <Marker shape={sh} cx={533.3} cy={yy} s={i < 3 ? 5.5 : 6} color={colII[i]} />
            <Marker shape={sh} cx={550.7} cy={yy} s={i < 3 ? 8 : 9.5} color={colII[i]} open />
            <text x={564.3} y={yy} dominantBaseline="central" fontSize={LF} fill={txtII[i]}>{s}</text>
          </g>
        );
      })}
      <line x1={528} x2={555} y1={558} y2={558} stroke="#222" strokeWidth={1.2} strokeDasharray="4,3" />
      <text x={564.3} y={558} dominantBaseline="central" fontSize={LF} fill="#222">Theory</text>
    </g>
  );
}

export default function App() {
  const lab = (t: string, x: number, y: number) => <text x={x} y={y} fontFamily={FONT} fontWeight="bold" fontSize={9.5} fill="#111">{t}</text>;
  return (
    <svg width={703} height={577} viewBox="0 0 703 577" style={{ position: 'absolute', left: 0, top: 0, background: '#fff' }}>
      <rect width={703} height={577} fill="#fff" />
      <PanelA />
      <PanelB />
      <PanelC />
      <PanelD />
      <PanelE />
      <PanelF />
      <Legend />
      {lab('a', 2, 12)}
      {lab('b', 371, 12)}
      {lab('c', 2, 251)}
      {lab('d', 368, 255)}
      {lab('e', 2, 405)}
      {lab('f', 252, 405)}
    </svg>
  );
}
